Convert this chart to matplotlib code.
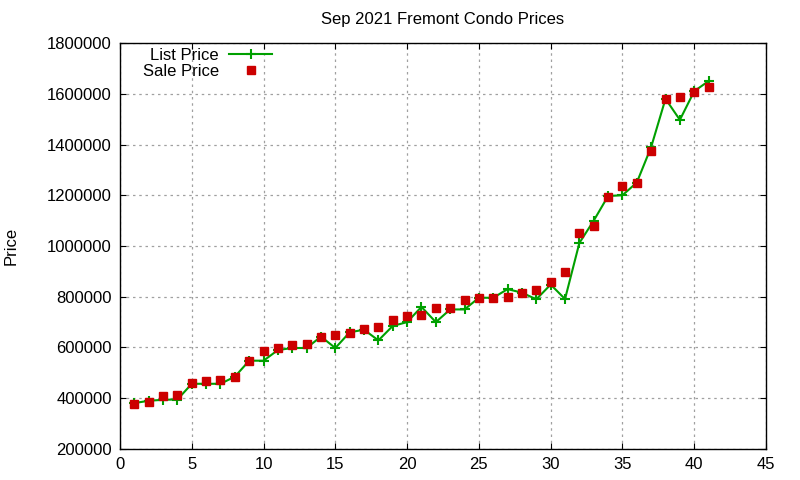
import matplotlib
matplotlib.use("Agg")
import matplotlib.pyplot as plt

plt.rcParams['font.family'] = ['Liberation Sans', 'DejaVu Sans']

# condo index 1..41
idx = list(range(1, 42))

list_price = [381000, 390000, 394000, 395000, 457000, 457000, 457000, 485000,
              548000, 548000, 590000, 598000, 598000, 643000, 598000, 660000,
              670000, 628000, 685000, 700000, 760000, 700000, 750000, 750000,
              796000, 796000, 830000, 816000, 790000, 848000, 791000, 1012000,
              1100000, 1197000, 1200000, 1250000, 1390000, 1580000, 1497000,
              1610000, 1650000]

sale_price = [378000, 386000, 410000, 413000, 460000, 469000, 473000, 485000,
              548000, 587000, 599000, 611000, 615000, 643000, 650000, 658000,
              674000, 682000, 708000, 725000, 729000, 757000, 757000, 788000,
              797000, 797000, 800000, 816000, 828000, 860000, 898000, 1052000,
              1078000, 1195000, 1238000, 1250000, 1376000, 1581000, 1586000,
              1607000, 1628000]

fig = plt.figure(figsize=(8, 4.8), dpi=100)
ax = fig.add_axes([0.15, 0.0646, 0.8075, 0.8458])

ax.plot(idx, list_price, color='#00a000', lw=1.5, marker='+', ms=7, mew=1.5,
        label='List Price')
ax.plot(idx, sale_price, ls='none', color='#cc0000', marker='s', ms=6,
        label='Sale Price')

ax.set_xlim(0, 45)
ax.set_ylim(200000, 1800000)
ax.set_xticks(range(0, 46, 5))
ax.set_yticks(range(200000, 1800001, 200000))
ax.set_yticklabels([str(v) for v in range(200000, 1800001, 200000)])
ax.tick_params(direction='in', length=4, labelsize=12, top=True, right=True,
               pad=6, colors='black')
ax.grid(True, color='#a0a0a0', ls=(0, (2, 3)), lw=0.9)
for s in ax.spines.values():
    s.set_linewidth(1.0)

ax.set_title('Sep 2021 Fremont Condo Prices', fontsize=12, pad=14)
ax.set_ylabel('Price', fontsize=12, labelpad=20)

leg = ax.legend(loc='upper left', frameon=False, markerfirst=False,
                fontsize=12, handlelength=2.6, handletextpad=0.6,
                borderaxespad=0.0, labelspacing=0.1,
                bbox_to_anchor=(0.025, 1.005))
for t in leg.get_texts():
    t.set_ha('right')

fig.savefig('out.png', dpi=100)
